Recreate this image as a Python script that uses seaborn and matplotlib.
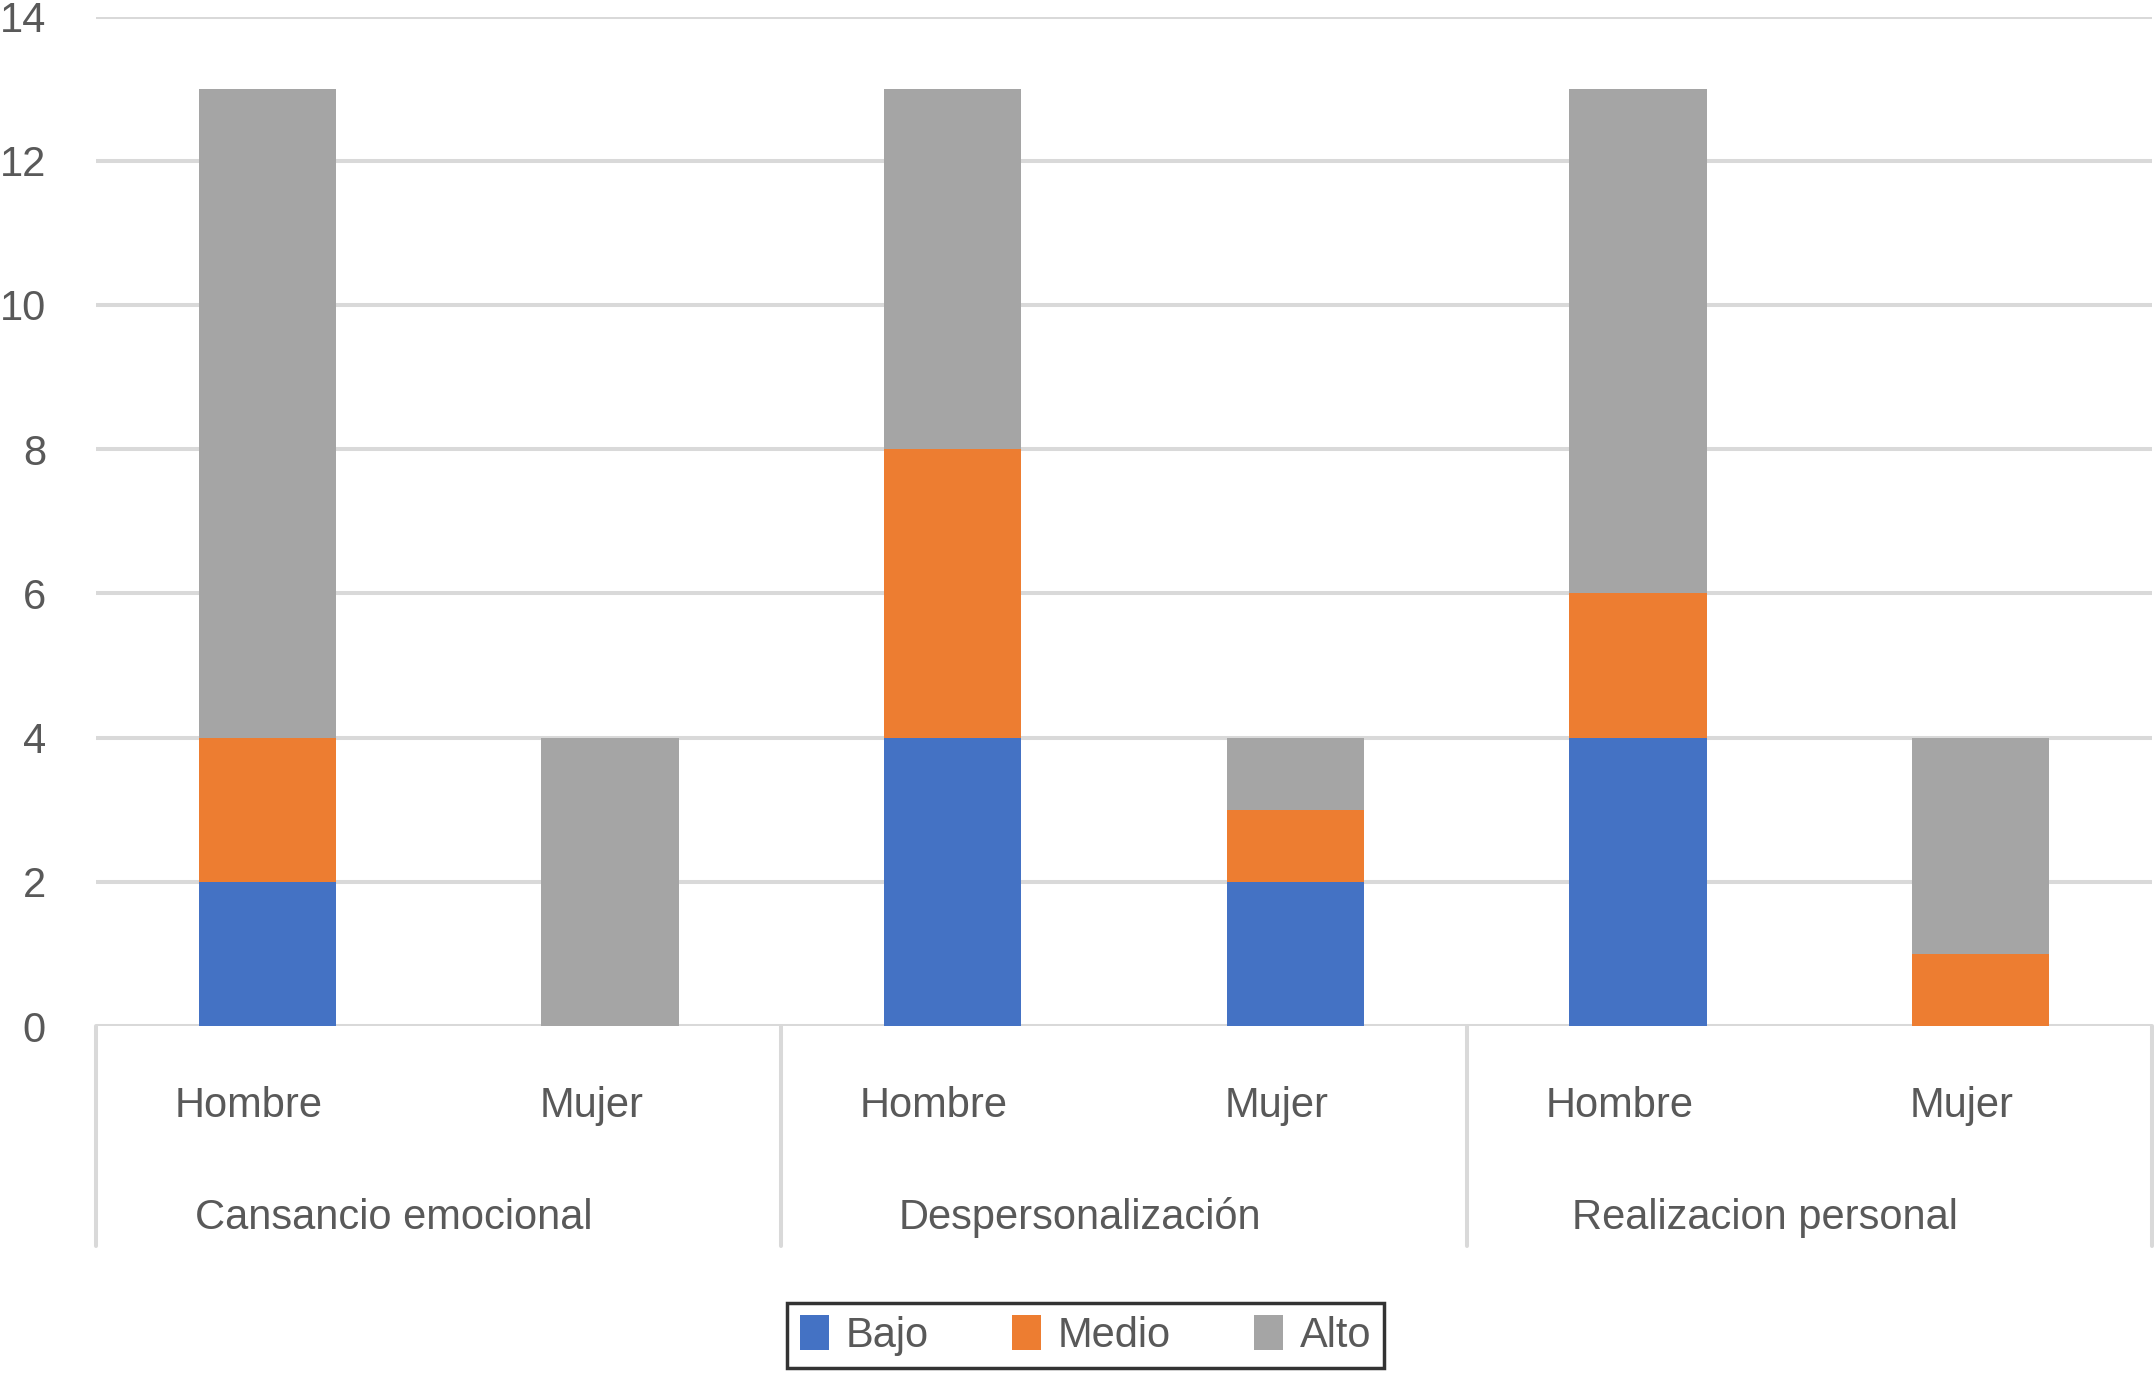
import matplotlib
matplotlib.use("Agg")
import matplotlib.pyplot as plt
from matplotlib.patches import Patch
import seaborn as sns
import pandas as pd
import numpy as np

groups = ["Cansancio emocional", "Despersonalización", "Realizacion personal"]
sexes = ["Hombre", "Mujer"]
series = ["Bajo", "Medio", "Alto"]
bajo = [2, 0, 4, 2, 4, 0]
medio = [2, 0, 4, 1, 2, 1]
alto = [9, 4, 5, 1, 7, 3]
colors = {"Bajo": "#4472C4", "Medio": "#ED7D31", "Alto": "#A5A5A5"}
yticks = [0, 2, 4, 6, 8, 10, 12, 14]

sns.set_theme(style="white")
plt.rcParams["font.family"] = ["Liberation Sans", "DejaVu Sans"]

slots = [f"{g}|{s}" for g in groups for s in sexes]
df = pd.DataFrame({"slot": slots, "Bajo": bajo, "Medio": medio, "Alto": alto})
df["c_bajo"] = df["Bajo"]
df["c_medio"] = df["Bajo"] + df["Medio"]
df["c_alto"] = df["Bajo"] + df["Medio"] + df["Alto"]

fig = plt.figure(figsize=(21.54, 13.73), dpi=100)
ax = fig.add_axes([96 / 2154, 1 - 1026 / 1373, (2152 - 96) / 2154, (1026 - 16.5) / 1373])

grid_c = "#D9D9D9"
text_c = "#595959"

for col, name in [("c_alto", "Alto"), ("c_medio", "Medio"), ("c_bajo", "Bajo")]:
    sns.barplot(data=df, x="slot", y=col, order=slots, color=colors[name],
                width=0.4, saturation=1, ax=ax, linewidth=0, zorder=3)

ax.set_ylim(0, 14)
ax.set_xlim(-0.5, 5.5)
ax.set_yticks(yticks)
ax.set_yticklabels([str(v) for v in yticks])
ax.set_xticks([])
ax.set_xlabel("")
ax.set_ylabel("")
for sp in ax.spines.values():
    sp.set_visible(False)
ax.yaxis.grid(True, color=grid_c, linewidth=2.9, zorder=0)
ax.set_axisbelow(True)
ax.tick_params(axis="y", length=0, pad=36, labelsize=30, labelcolor=text_c)

# vertical category separators
trans = ax.get_xaxis_transform()
for xv in [-0.5, 1.5, 3.5, 5.5]:
    ax.plot([xv, xv], [0, -0.218], transform=trans, color=grid_c,
            linewidth=2.9, clip_on=False, zorder=1)

for i, s in enumerate(slots):
    sex = s.split("|")[1]
    ax.text(i - 0.055, -0.079, sex, transform=trans, ha="center", va="center",
            fontsize=30, color=text_c)
for gi, g in enumerate(groups):
    ax.text(2 * gi + 0.5 - 0.13, -0.190, g, transform=trans, ha="center",
            va="center", fontsize=30, color=text_c)

handles = [Patch(facecolor=colors[n], edgecolor="none", label=n) for n in series]
leg = fig.legend(handles=handles, loc="center", bbox_to_anchor=(0.504, 0.0273),
                 ncol=3, frameon=True, fancybox=False, fontsize=30,
                 handlelength=0.7, handleheight=0.9, handletextpad=0.4,
                 columnspacing=2.0, borderpad=0.3)
leg.get_frame().set_edgecolor("black")
leg.get_frame().set_linewidth(2.5)
for t in leg.get_texts():
    t.set_color(text_c)

fig.savefig("out.png", dpi=100, facecolor="white")
